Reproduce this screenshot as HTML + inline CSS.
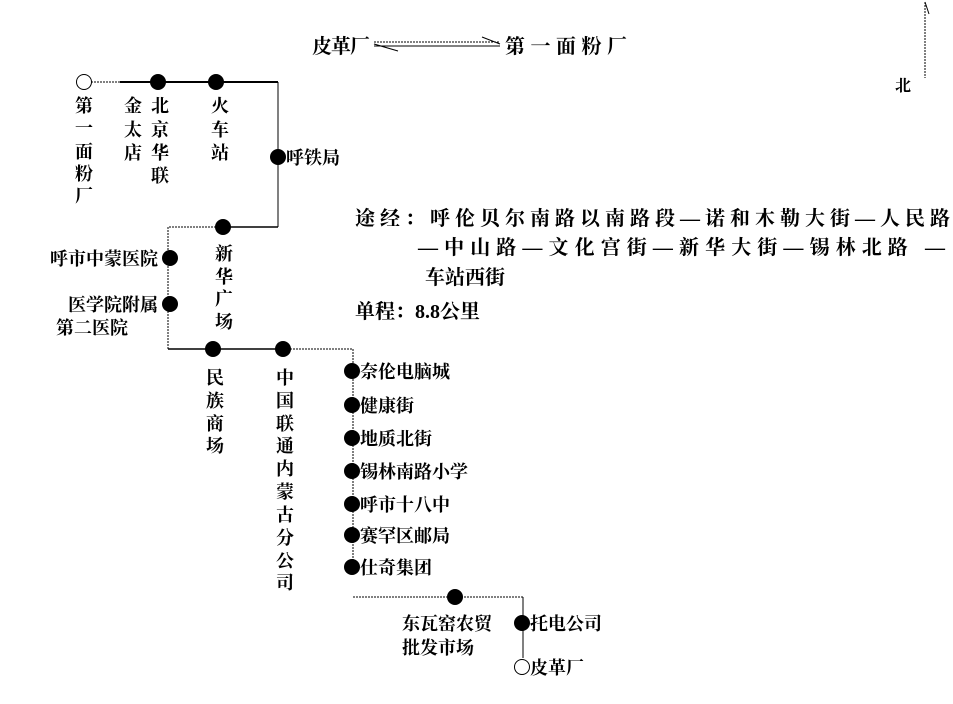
<!DOCTYPE html>
<html><head><meta charset="utf-8"><style>
html,body{margin:0;padding:0;background:#fff;}
svg text{font-family:"Liberation Serif","Noto Serif CJK SC","Noto Sans CJK SC",serif;fill:#000;font-weight:bold;}
</style></head><body>
<svg width="953" height="699" viewBox="0 0 953 699" xmlns="http://www.w3.org/2000/svg">
<g stroke="#000" fill="none">
<line x1="925" y1="2" x2="925" y2="78" stroke-width="1" stroke-dasharray="2,1"/>
<line x1="925" y1="2" x2="929" y2="14" stroke-width="1"/>
<line x1="374" y1="42" x2="500" y2="42" stroke-width="1" stroke-dasharray="2,1"/>
<line x1="374" y1="46" x2="500" y2="46" stroke-width="1"/>
<line x1="374" y1="44" x2="398" y2="51" stroke-width="1"/>
<line x1="500" y1="44" x2="482" y2="37" stroke-width="1"/>
<line x1="91" y1="82" x2="120" y2="82" stroke-width="1" stroke-dasharray="2,1"/>
<line x1="120" y1="82" x2="278" y2="82" stroke-width="2"/>
<line x1="278" y1="82" x2="278" y2="227" stroke-width="1"/>
<line x1="278" y1="227" x2="225" y2="227" stroke-width="1.5"/>
<line x1="225" y1="227" x2="168" y2="227" stroke-width="1" stroke-dasharray="2,1"/>
<line x1="168" y1="227" x2="168" y2="349" stroke-width="1" stroke-dasharray="2,1"/>
<line x1="168" y1="349" x2="290" y2="349" stroke-width="1.5"/>
<line x1="290" y1="349" x2="353" y2="349" stroke-width="1" stroke-dasharray="2,1"/>
<line x1="353" y1="349" x2="353" y2="572" stroke-width="1" stroke-dasharray="2,1"/>
<line x1="353" y1="597" x2="523" y2="597" stroke-width="1" stroke-dasharray="2,1"/>
<line x1="523" y1="597" x2="523" y2="658" stroke-width="1"/>
</g>
<g fill="#000">
<circle cx="158" cy="82" r="8"/><circle cx="216" cy="82" r="8"/>
<circle cx="278" cy="157" r="8"/><circle cx="223" cy="227" r="8"/>
<circle cx="170" cy="258" r="8"/><circle cx="170" cy="304" r="8"/>
<circle cx="213" cy="349" r="8"/><circle cx="283" cy="349" r="8"/>
<circle cx="352" cy="371" r="8"/><circle cx="352" cy="405" r="8"/>
<circle cx="352" cy="438" r="8"/><circle cx="352" cy="471" r="8"/>
<circle cx="352" cy="504" r="8"/><circle cx="352" cy="535" r="8"/>
<circle cx="352" cy="567" r="8"/>
<circle cx="455" cy="597" r="8"/><circle cx="522" cy="623" r="8"/>
</g>
<circle cx="84" cy="82" r="7.5" fill="#fff" stroke="#000" stroke-width="1"/>
<circle cx="522" cy="667" r="7.5" fill="#fff" stroke="#000" stroke-width="1"/>

<g font-size="20">
<text x="312" y="53" textLength="58">皮革厂</text>
<text x="505" y="53" textLength="122">第一面粉厂</text>
<text x="895" y="91" font-size="16">北</text>
<text x="355" y="225" textLength="595">途经：呼伦贝尔南路以南路段—诺和木勒大街—人民路</text>
<text x="418" y="254" textLength="527">—中山路—文化宫街—新华大街—锡林北路 —</text>
<text x="425" y="284">车站西街</text>
<text x="355" y="318">单程：8.8公里</text>
</g>
<g font-size="18" text-anchor="middle">
<text x="84" y="112">第</text><text x="84" y="134">一</text><text x="84" y="158">面</text><text x="84" y="180">粉</text><text x="84" y="202">厂</text>
<text x="133" y="112">金</text><text x="133" y="136">太</text><text x="133" y="159">店</text>
<text x="160" y="112">北</text><text x="160" y="136">京</text><text x="160" y="159">华</text><text x="160" y="182">联</text>
<text x="220" y="112">火</text><text x="220" y="136">车</text><text x="220" y="159">站</text>
<text x="224" y="260">新</text><text x="224" y="283">华</text><text x="224" y="305">广</text><text x="224" y="328">场</text>
<text x="215" y="384">民</text><text x="215" y="407">族</text><text x="215" y="430">商</text><text x="215" y="452">场</text>
<text x="285" y="384">中</text><text x="285" y="407">国</text><text x="285" y="430">联</text><text x="285" y="452">通</text><text x="285" y="475">内</text><text x="285" y="498">蒙</text><text x="285" y="521">古</text><text x="285" y="544">分</text><text x="285" y="567">公</text><text x="285" y="589">司</text>
</g>
<g font-size="18">
<text x="286" y="164">呼铁局</text>
<text x="158" y="265" text-anchor="end">呼市中蒙医院</text>
<text x="158" y="311" text-anchor="end">医学院附属</text>
<text x="56" y="334">第二医院</text>
<text x="360" y="378">奈伦电脑城</text>
<text x="360" y="412">健康街</text>
<text x="360" y="445">地质北街</text>
<text x="360" y="478">锡林南路小学</text>
<text x="360" y="511">呼市十八中</text>
<text x="360" y="542">赛罕区邮局</text>
<text x="360" y="574">仕奇集团</text>
<text x="402" y="630">东瓦窑农贸</text>
<text x="402" y="654">批发市场</text>
<text x="530" y="630">托电公司</text>
<text x="530" y="674">皮革厂</text>
</g>
</svg>
</body></html>
